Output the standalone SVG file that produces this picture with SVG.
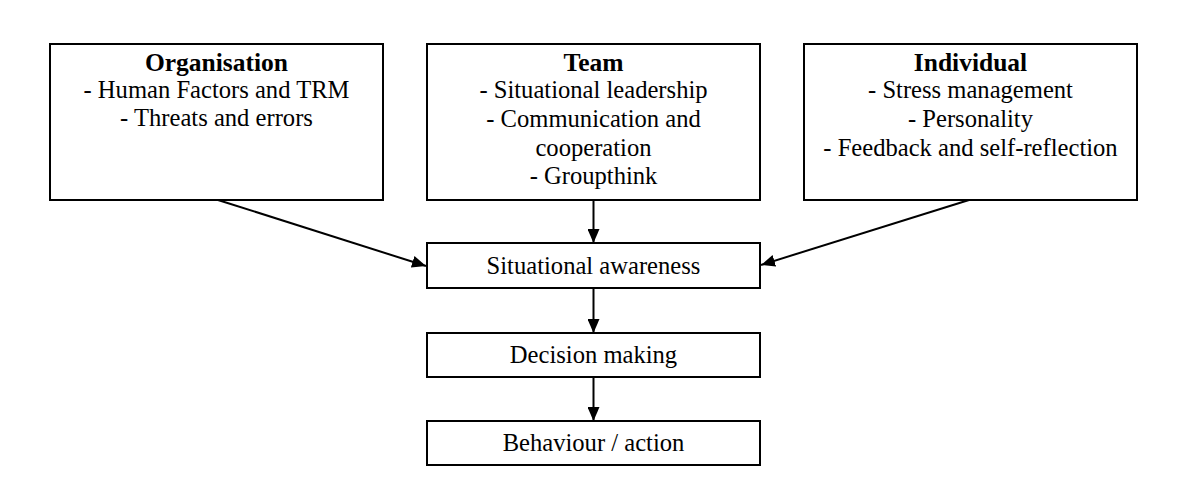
<svg xmlns="http://www.w3.org/2000/svg" width="1200" height="500" viewBox="0 0 1200 500">
<style>
.box{fill:#fff;stroke:#000;stroke-width:2}
.t{font-family:"Liberation Serif","Times New Roman",serif;font-size:24.6px;fill:#000;text-anchor:middle}
.b{font-weight:bold;font-size:25.5px}
.c{stroke:#000;stroke-width:2;fill:none;marker-end:url(#ah)}
</style>
<defs>
<marker id="ah" viewBox="0 0 14 12" refX="14" refY="6" markerWidth="14" markerHeight="12" markerUnits="userSpaceOnUse" orient="auto">
<path d="M0,0 L14,6 L0,12 Z" fill="#000"/>
</marker>
</defs>
<rect width="1200" height="500" fill="#fff"/>
<g id="organisation">
<rect class="box" x="50" y="44" width="333" height="156"/>
<text class="t b" x="216.5" y="70.5">Organisation</text>
<text class="t" x="216.5" y="98">- Human Factors and TRM</text>
<text class="t" x="216.5" y="126">- Threats and errors</text>
</g>
<g id="team">
<rect class="box" x="427" y="44" width="333" height="156"/>
<text class="t b" x="593.5" y="70.5">Team</text>
<text class="t" x="593.5" y="98">- Situational leadership</text>
<text class="t" x="593.5" y="127">- Communication and</text>
<text class="t" x="593.5" y="156">cooperation</text>
<text class="t" x="593.5" y="184">- Groupthink</text>
</g>
<g id="individual">
<rect class="box" x="804" y="44" width="333" height="156"/>
<text class="t b" x="970.5" y="70.5">Individual</text>
<text class="t" x="970.5" y="98">- Stress management</text>
<text class="t" x="970.5" y="127">- Personality</text>
<text class="t" x="970.5" y="156">- Feedback and self-reflection</text>
</g>
<g id="situational-awareness">
<rect class="box" x="427" y="243" width="333" height="45"/>
<text class="t" x="593.5" y="273.5">Situational awareness</text>
</g>
<g id="decision-making">
<rect class="box" x="427" y="333" width="333" height="44"/>
<text class="t" x="593.5" y="363">Decision making</text>
</g>
<g id="behaviour-action">
<rect class="box" x="427" y="421" width="333" height="44"/>
<text class="t" x="593.5" y="451">Behaviour / action</text>
</g>
<g id="connectors">
<line class="c" x1="218" y1="200" x2="426" y2="266"/>
<line class="c" x1="969" y1="200" x2="761" y2="265"/>
<line class="c" x1="593.5" y1="200" x2="593.5" y2="243"/>
<line class="c" x1="593.5" y1="288" x2="593.5" y2="333"/>
<line class="c" x1="593.5" y1="377" x2="593.5" y2="421"/>
</g>
</svg>
